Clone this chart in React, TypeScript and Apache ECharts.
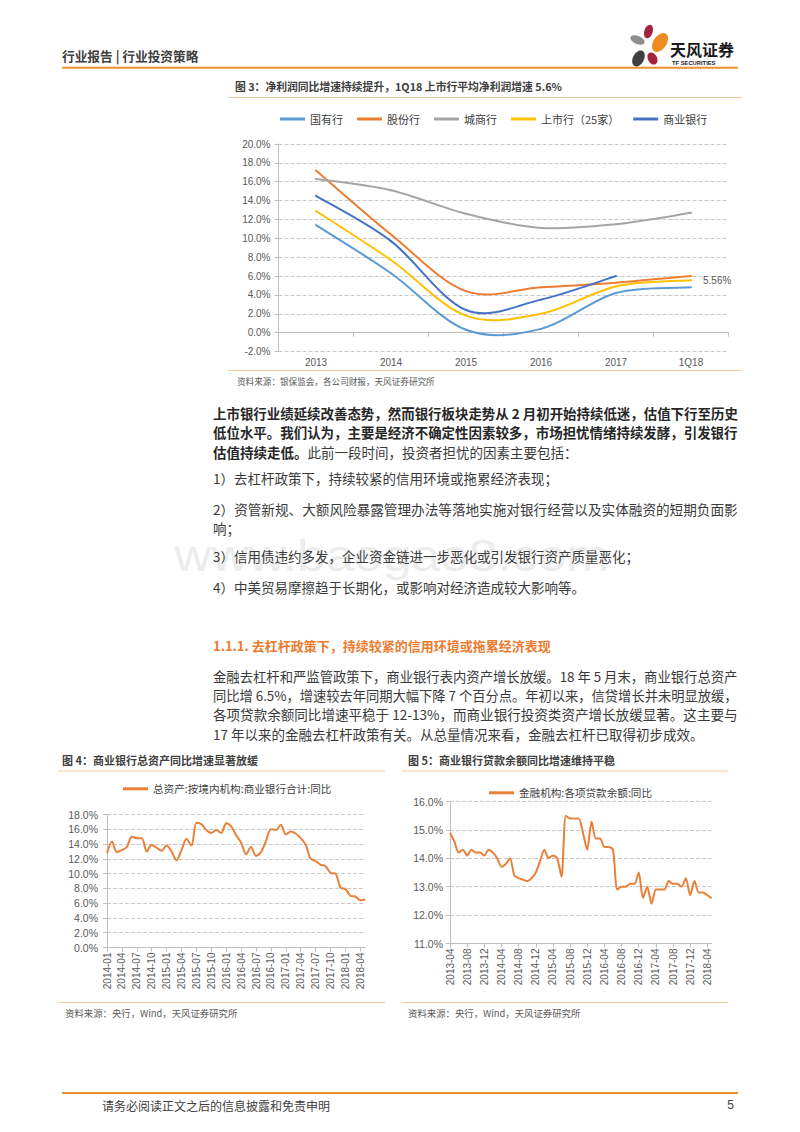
import React, { useEffect, useRef } from 'react';
import * as echarts from 'echarts';

// ---------------- DATA ----------------
const years3 = ['2013', '2014', '2015', '2016', '2017', '1Q18'];
const stateOwned = [11.4, 6.3, 0.3, 0.4, 4.2, 4.8];
const jointStock = [17.2, 10.4, 4.4, 4.8, 5.3, 6.0];
const cityBanks = [16.3, 15.1, 12.6, 11.1, 11.5, 12.7];
const listedBanks = [12.9, 7.7, 1.8, 2.0, 4.9, 5.56];
const commercialBanks = [14.5, 9.7, 2.4, 3.5, 6.0, null];
const names3 = ['国有行', '股份行', '城商行', '上市行（25家）', '商业银行'];

const months4 = [
  '2014-01', '2014-02', '2014-03', '2014-04', '2014-05', '2014-06', '2014-07', '2014-08', '2014-09', '2014-10', '2014-11', '2014-12',
  '2015-01', '2015-02', '2015-03', '2015-04', '2015-05', '2015-06', '2015-07', '2015-08', '2015-09', '2015-10', '2015-11', '2015-12',
  '2016-01', '2016-02', '2016-03', '2016-04', '2016-05', '2016-06', '2016-07', '2016-08', '2016-09', '2016-10', '2016-11', '2016-12',
  '2017-01', '2017-02', '2017-03', '2017-04', '2017-05', '2017-06', '2017-07', '2017-08', '2017-09', '2017-10', '2017-11', '2017-12',
  '2018-01', '2018-02', '2018-03', '2018-04', '2018-05',
];
const assets4 = [
  12.8, 14.3, 12.9, 13.2, 13.6, 15.0, 14.8, 14.8, 13.0, 13.9, 13.5, 13.1,
  13.8, 13.0, 11.8, 13.2, 14.7, 13.8, 16.9, 16.7, 15.9, 15.5, 15.9, 15.5,
  16.8, 16.4, 15.2, 14.2, 12.6, 13.6, 12.4, 12.9, 14.4, 16.0, 15.9, 16.6,
  15.3, 15.7, 15.4, 14.8, 13.9, 12.0, 11.7, 11.2, 11.0, 10.1, 10.0, 8.1,
  7.9, 7.0, 6.9, 6.4, 6.5,
];
const name4 = '总资产:按境内机构:商业银行合计:同比';

const months5 = [
  '2013-04', '2013-05', '2013-06', '2013-07', '2013-08', '2013-09', '2013-10', '2013-11', '2013-12',
  '2014-01', '2014-02', '2014-03', '2014-04', '2014-05', '2014-06', '2014-07', '2014-08', '2014-09', '2014-10', '2014-11', '2014-12',
  '2015-01', '2015-02', '2015-03', '2015-04', '2015-05', '2015-06', '2015-07', '2015-08', '2015-09', '2015-10', '2015-11', '2015-12',
  '2016-01', '2016-02', '2016-03', '2016-04', '2016-05', '2016-06', '2016-07', '2016-08', '2016-09', '2016-10', '2016-11', '2016-12',
  '2017-01', '2017-02', '2017-03', '2017-04', '2017-05', '2017-06', '2017-07', '2017-08', '2017-09', '2017-10', '2017-11', '2017-12',
  '2018-01', '2018-02', '2018-03', '2018-04', '2018-05',
];
const loans5 = [
  14.9, 14.6, 14.2, 14.3, 14.1, 14.3, 14.2, 14.2, 14.1, 14.3, 14.2, 14.0,
  13.7, 13.8, 14.0, 13.4, 13.3, 13.25, 13.2, 13.3, 13.5, 13.9, 14.3, 14.0,
  14.1, 14.0, 13.35, 15.5, 15.4, 15.4, 15.4, 14.9, 14.3, 15.3, 14.7, 14.7,
  14.4, 14.4, 14.3, 12.9, 13.0, 13.0, 13.1, 13.1, 13.5, 12.6, 13.0, 12.4,
  12.9, 12.9, 12.9, 13.2, 13.1, 13.1, 13.0, 13.3, 12.7, 13.2, 12.8, 12.8,
  12.7, 12.6,
];
const name5 = '金融机构:各项贷款余额:同比';

// ---------------- TEXTS ----------------
const headerTitle = '行业报告 | 行业投资策略';
const brandCn = '天风证券';
const brandEn = 'TF SECURITIES';
const fig3Title = '图 3：净利润同比增速持续提升，1Q18 上市行平均净利润增速 5.6%';
const fig3Source = '资料来源：银保监会，各公司财报，天风证券研究所';
const para1Bold = [
  '上市银行业绩延续改善态势，然而银行板块走势从 2 月初开始持续低迷，估值下行至历史',
  '低位水平。我们认为，主要是经济不确定性因素较多，市场担忧情绪持续发酵，引发银行',
];
const para1LastBold = '估值持续走低。';
const para1LastRegular = '此前一段时间，投资者担忧的因素主要包括：';
const items = [
  ['1）去杠杆政策下，持续较紧的信用环境或拖累经济表现；'],
  ['2）资管新规、大额风险暴露管理办法等落地实施对银行经营以及实体融资的短期负面影', '响；'],
  ['3）信用债违约多发，企业资金链进一步恶化或引发银行资产质量恶化；'],
  ['4）中美贸易摩擦趋于长期化，或影响对经济造成较大影响等。'],
];
const heading = '1.1.1. 去杠杆政策下，持续较紧的信用环境或拖累经济表现';
const para2 = [
  '金融去杠杆和严监管政策下，商业银行表内资产增长放缓。18 年 5 月末，商业银行总资产',
  '同比增 6.5%，增速较去年同期大幅下降 7 个百分点。年初以来，信贷增长并未明显放缓，',
  '各项贷款余额同比增速平稳于 12-13%，而商业银行投资类资产增长放缓显著。这主要与',
  '17 年以来的金融去杠杆政策有关。从总量情况来看，金融去杠杆已取得初步成效。',
];
const fig4Title = '图 4：商业银行总资产同比增速显著放缓';
const fig5Title = '图 5：商业银行贷款余额同比增速维持平稳';
const figSource45 = '资料来源：央行，Wind，天风证券研究所';
const footerText = '请务必阅读正文之后的信息披露和免责申明';
const pageNo = '5';
const watermark = 'www.baogao8.com';

// ---------------- STYLE ----------------
const CJK = '"Noto Sans CJK SC", "Noto Sans", sans-serif';
const LAT = '"Liberation Sans", Arial, "Noto Sans CJK SC", sans-serif';
const ORANGE_RULE = '#E8912F';
const LIGHT_RULE = '#F3C9A0';
const TEXT = '#3a3a3a';
const GRID = '#c8c8c8';
const AXIS = '#bfbfbf';
const LABEL = '#595959';
const LINE_ORANGE = '#E8803A';
const colors3 = ['#5B9BD5', '#ED7D31', '#A5A5A5', '#FFC000', '#4472C4'];

let ctx: CanvasRenderingContext2D | null = null;
function measure(text: string, font: string): number {
  if (!ctx) ctx = document.createElement('canvas').getContext('2d');
  if (!ctx) return 0;
  ctx.font = font;
  return ctx.measureText(text).width;
}

function text(x: number, y: number, t: string, font: string, fill: string, align = 'left', scaleX = 1) {
  return {
    type: 'text',
    x,
    y,
    scaleX,
    z: 10,
    style: { text: t, font, fill, textAlign: align, textVerticalAlign: 'middle', align, verticalAlign: 'middle' },
  };
}

function hline(x1: number, x2: number, y: number, color: string, width: number) {
  return { type: 'line', z: 5, shape: { x1, y1: y, x2, y2: y }, style: { stroke: color, lineWidth: width } };
}

function justified(x: number, y: number, t: string, font: string, fill: string, width: number) {
  const w = measure(t, font);
  const s = w > 0 ? width / w : 1;
  return text(x, y, t, font, fill, 'left', s > 0.9 && s < 1.1 ? s : 1);
}

function pct1(v: number) {
  return v.toFixed(1) + '%';
}

// Excel-like (Catmull-Rom) smoothed line drawn through the cartesian axes
function smoothSeries(name: string, values: (number | null)[], color: string, withEndLabel: boolean) {
  const pts = values.map((v, k) => [k, v]).filter((p) => p[1] != null) as number[][];
  return {
    name,
    type: 'custom',
    coordinateSystem: 'cartesian2d',
    xAxisIndex: 0,
    yAxisIndex: 0,
    data: pts,
    encode: { x: 0, y: 1 },
    itemStyle: { color },
    clip: false,
    renderItem: (params: any, api: any) => {
      const k = params.dataIndex;
      const P = (j: number) => api.coord(pts[Math.max(0, Math.min(pts.length - 1, j))]);
      const children: any[] = [];
      if (k < pts.length - 1) {
        const p0 = P(k - 1);
        const p1 = P(k);
        const p2 = P(k + 1);
        const p3 = P(k + 2);
        children.push({
          type: 'bezierCurve',
          shape: {
            x1: p1[0],
            y1: p1[1],
            x2: p2[0],
            y2: p2[1],
            cpx1: p1[0] + (p2[0] - p0[0]) / 6,
            cpy1: p1[1] + (p2[1] - p0[1]) / 6,
            cpx2: p2[0] - (p3[0] - p1[0]) / 6,
            cpy2: p2[1] - (p3[1] - p1[1]) / 6,
          },
          style: { stroke: color, lineWidth: 2, fill: 'none', lineCap: 'round' },
        });
      }
      if (withEndLabel && k === pts.length - 1) {
        const p = P(k);
        children.push({
          type: 'text',
          x: p[0] + 12,
          y: p[1],
          style: {
            text: pts[k][1] + '%',
            font: `10px ${LAT}`,
            fill: LABEL,
            textAlign: 'left',
            textVerticalAlign: 'middle',
            align: 'left',
            verticalAlign: 'middle',
          },
        });
      }
      return { type: 'group', children };
    },
  };
}

function buildOption() {
  const bodyFont = `13.5px ${CJK}`;
  const bodyBold = `bold 13.5px ${CJK}`;
  const BX = 213;
  const BW = 525;
  const g: any[] = [];

  // watermark
  g.push({
    type: 'text', x: 609, y: 556, z: 1, scaleX: 1.17,
    style: { text: watermark, font: `44px ${LAT}`, fill: 'rgba(205,205,205,0.4)', textAlign: 'right', textVerticalAlign: 'middle', align: 'right', verticalAlign: 'middle' },
  });

  // header
  g.push(text(62, 55, headerTitle, `bold 12.7px ${CJK}`, '#404040'));
  const petals = [
    { cx: 648.5, cy: 31.5, rx: 4.2, ry: 7, r: -0.3, c: '#A3233D' },
    { cx: 660, cy: 42.5, rx: 6.5, ry: 10.5, r: -0.6, c: '#EE8A1E' },
    { cx: 637.5, cy: 40, rx: 7.5, ry: 4, r: -0.4, c: '#8E8E8E' },
    { cx: 652.5, cy: 58.5, rx: 4.5, ry: 6.5, r: 0.5, c: '#A3233D' },
    { cx: 638.5, cy: 58.5, rx: 5.5, ry: 8.5, r: -0.5, c: '#3F3F3F' },
  ];
  petals.forEach((p) => {
    g.push({ type: 'ellipse', x: p.cx, y: p.cy, rotation: p.r, z: 10, shape: { cx: 0, cy: 0, rx: p.rx, ry: p.ry }, style: { fill: p.c } });
  });
  g.push(text(670, 48.5, brandCn, `bold 16px ${CJK}`, '#1a1a1a'));
  g.push(text(672, 63, brandEn, `bold 5.8px ${LAT}`, '#1a1a1a'));
  g.push(hline(62, 738, 67.8, ORANGE_RULE, 2));

  // figure 3 captions
  g.push(text(235, 86, fig3Title, `bold 10.8px ${CJK}`, '#404040'));
  g.push(hline(228, 742, 97.5, LIGHT_RULE, 1));
  g.push(hline(228, 742, 370.5, LIGHT_RULE, 1));
  g.push(text(237, 381, fig3Source, `8.6px ${CJK}`, LABEL));

  // paragraph 1
  const p1y = [413, 432.3, 451.5];
  para1Bold.forEach((l, i) => g.push(justified(BX, p1y[i], l, bodyBold, '#262626', BW)));
  g.push(text(BX, p1y[2], para1LastBold, bodyBold, '#262626'));
  g.push(text(BX + measure(para1LastBold, bodyBold), p1y[2], para1LastRegular, bodyFont, TEXT));

  // items
  const itemY = [[478], [509, 527.5], [556], [587]];
  items.forEach((lines, i) => {
    lines.forEach((l, j) => {
      if (j < lines.length - 1) g.push(justified(BX, itemY[i][j], l, bodyFont, TEXT, BW));
      else g.push(text(BX, itemY[i][j], l, bodyFont, TEXT));
    });
  });

  // heading + para2
  g.push(text(BX, 645.5, heading, `bold 13px ${CJK}`, '#EB7B2E'));
  const p2y = [675.5, 695, 714.5, 734];
  para2.forEach((l, i) => {
    if (i < para2.length - 1) g.push(justified(BX, p2y[i], l, bodyFont, TEXT, BW));
    else g.push(text(BX, p2y[i], l, bodyFont, TEXT));
  });

  // figure 4 / 5 captions
  g.push(text(62, 759.5, fig4Title, `bold 11px ${CJK}`, '#404040'));
  g.push(hline(58, 385, 771, LIGHT_RULE, 1));
  g.push(hline(58, 385, 1002.5, LIGHT_RULE, 1));
  g.push(text(65, 1013, figSource45, `9.4px ${CJK}`, LABEL));

  g.push(text(408, 759.5, fig5Title, `bold 11px ${CJK}`, '#404040'));
  g.push(hline(402, 728, 771, LIGHT_RULE, 1));
  g.push(hline(402, 728, 1002.5, LIGHT_RULE, 1));
  g.push(text(408, 1013, figSource45, `9.4px ${CJK}`, LABEL));

  // footer
  g.push(hline(62, 738, 1093, ORANGE_RULE, 2));
  g.push(text(102, 1105, footerText, `12px ${CJK}`, '#404040'));
  g.push(text(734, 1105, pageNo, `12px ${LAT}`, '#404040', 'right'));

  const axisLabel = { color: LABEL, fontFamily: LAT, fontSize: 10 };
  const axisLineStyle = { color: AXIS, width: 1 };
  const legendBase = {
    padding: 0,
    itemWidth: 25,
    itemHeight: 3,
    icon: 'rect',
    selectedMode: false,
    textStyle: { fontFamily: CJK, color: '#404040', fontSize: 11 },
  };

  const series3 = [stateOwned, jointStock, cityBanks, listedBanks, commercialBanks].map((d, i) =>
    smoothSeries(names3[i], d, colors3[i], i === 3),
  );

  return {
    animation: false,
    backgroundColor: '#ffffff',
    textStyle: { fontFamily: CJK },
    graphic: { elements: g },
    legend: [
      { ...legendBase, data: names3, left: 280, top: 113.5, itemGap: 14 },
      { ...legendBase, data: [name4], left: 123, top: 783.5, textStyle: { ...legendBase.textStyle, fontSize: 10.6 } },
      { ...legendBase, data: [name5], left: 489, top: 787.5, textStyle: { ...legendBase.textStyle, fontSize: 10.6 } },
    ],
    grid: [
      { left: 278.5, top: 144, width: 450, height: 207.5 },
      { left: 107, top: 814.5, width: 258.3, height: 133 },
      { left: 450, top: 801.5, width: 261.6, height: 142 },
    ],
    xAxis: [
      {
        gridIndex: 0,
        type: 'category',
        data: years3,
        boundaryGap: true,
        axisLine: { onZero: true, lineStyle: axisLineStyle },
        axisTick: { show: true, length: 4, lineStyle: axisLineStyle },
        axisLabel: { ...axisLabel, margin: 6 },
        splitLine: { show: false },
      },
      {
        gridIndex: 1,
        type: 'category',
        data: months4,
        boundaryGap: false,
        axisLine: { lineStyle: axisLineStyle },
        axisTick: { show: true, interval: 2, length: 4, lineStyle: axisLineStyle },
        axisLabel: { ...axisLabel, interval: 2, rotate: 90, margin: 5 },
        splitLine: { show: false },
      },
      {
        gridIndex: 2,
        type: 'category',
        data: months5,
        boundaryGap: false,
        axisLine: { lineStyle: axisLineStyle },
        axisTick: { show: true, interval: 3, length: 4, lineStyle: axisLineStyle },
        axisLabel: { ...axisLabel, interval: 3, rotate: 90, margin: 5 },
        splitLine: { show: false },
      },
    ],
    yAxis: [
      {
        gridIndex: 0,
        type: 'value',
        min: -2,
        max: 20,
        interval: 2,
        axisLine: { show: true, lineStyle: axisLineStyle },
        axisTick: { show: true, length: 4, lineStyle: axisLineStyle },
        axisLabel: { ...axisLabel, margin: 8, formatter: pct1 },
        splitLine: { show: true, lineStyle: { type: 'dashed', color: GRID, width: 1 } },
      },
      {
        gridIndex: 1,
        type: 'value',
        min: 0,
        max: 18,
        interval: 2,
        axisLine: { show: true, lineStyle: axisLineStyle },
        axisTick: { show: true, length: 4, lineStyle: axisLineStyle },
        axisLabel: { ...axisLabel, fontSize: 10.5, margin: 9, formatter: pct1 },
        splitLine: { show: true, lineStyle: { type: 'dashed', color: GRID, width: 1 } },
      },
      {
        gridIndex: 2,
        type: 'value',
        min: 11,
        max: 16,
        interval: 1,
        axisLine: { show: true, lineStyle: axisLineStyle },
        axisTick: { show: true, length: 4, lineStyle: axisLineStyle },
        axisLabel: { ...axisLabel, fontSize: 10.5, margin: 7, formatter: pct1 },
        splitLine: { show: true, lineStyle: { type: 'dashed', color: GRID, width: 1 } },
      },
    ],
    series: [
      ...series3,
      {
        name: name4,
        type: 'line',
        xAxisIndex: 1,
        yAxisIndex: 1,
        data: assets4,
        smooth: 0.3,
        showSymbol: false,
        lineStyle: { width: 2, color: LINE_ORANGE },
        itemStyle: { color: LINE_ORANGE },
        emphasis: { disabled: true },
      },
      {
        name: name5,
        type: 'line',
        xAxisIndex: 2,
        yAxisIndex: 2,
        data: loans5,
        smooth: 0.25,
        showSymbol: false,
        lineStyle: { width: 2, color: LINE_ORANGE },
        itemStyle: { color: LINE_ORANGE },
        emphasis: { disabled: true },
      },
    ],
  };
}

export default function App() {
  const ref = useRef<HTMLDivElement>(null);
  useEffect(() => {
    if (!ref.current) return;
    const chart = echarts.init(ref.current, null, { renderer: 'svg', width: 800, height: 1132 });
    chart.setOption(buildOption() as any);
    return () => chart.dispose();
  }, []);
  return (
    <div
      ref={ref}
      style={{ position: 'absolute', left: 0, top: 0, width: 800, height: 1132, background: '#ffffff' }}
    />
  );
}
